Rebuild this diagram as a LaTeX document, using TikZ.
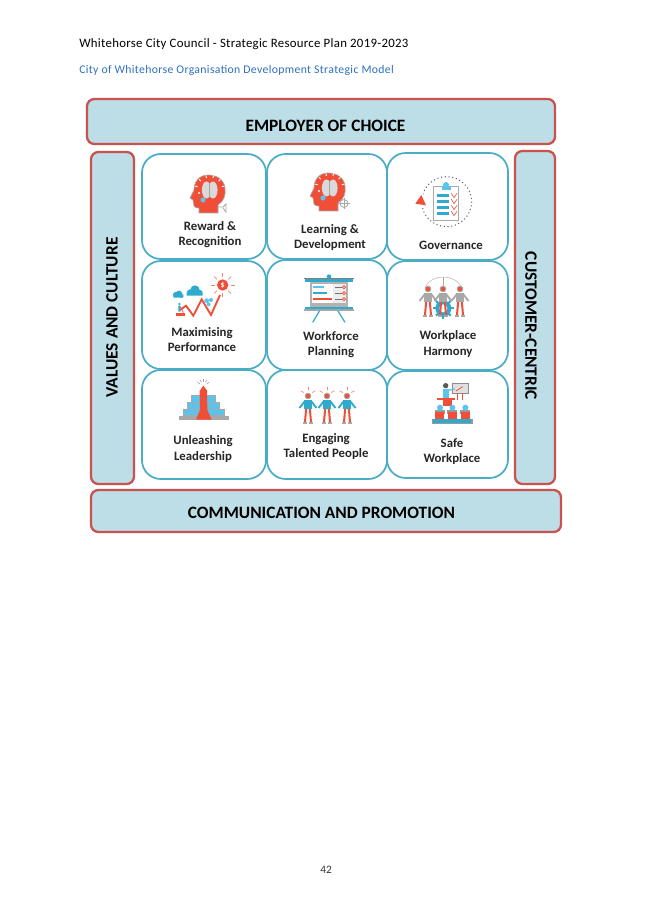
\documentclass[tikz,border=0pt]{standalone}
\usepackage{fontspec}
\setmainfont{Carlito}
\definecolor{panelblue}{HTML}{BDDDE7}
\definecolor{panelred}{HTML}{C9524F}
\definecolor{cellblue}{HTML}{4BACC6}
\definecolor{iconred}{HTML}{F04E37}
\definecolor{iconblue}{HTML}{2FA9CC}
\definecolor{skyblue}{HTML}{5CC4EC}
\definecolor{icongrey}{HTML}{A8A8A8}
\definecolor{titleblue}{HTML}{2E6FBF}
\tikzset{
  x=0.75pt,y=-0.75pt,
  panel/.style={draw=panelred,fill=panelblue,line width=1.7pt,rounded corners=5.5pt},
  cellbox/.style={draw=cellblue,fill=white,line width=1.3pt,rounded corners=14pt},
  paneltext/.style={font=\bfseries\fontsize{13}{13}\selectfont,text=black,inner sep=0pt},
  celltext/.style={font=\bfseries\fontsize{9.6}{11.3}\selectfont,text=black!85,align=center,inner sep=0pt},
  greyline/.style={draw=icongrey,line width=0.6pt},
  rays/.style={draw=iconred!70,line width=0.5pt},
  pics/headicon/.style={code={
    \draw[fill=iconred,draw=icongrey,line width=0.5pt] (11,18) -- (11,10) .. controls (17,6) and (19,0) .. (18,-7) .. controls (17,-16) and (9,-20) .. (1,-20) .. controls (-8,-20) and (-13,-13) .. (-13,-5) -- (-17,3) -- (-14,5) -- (-13,11) .. controls (-12,13) and (-10,13) .. (-8,13) -- (-8,18) -- cycle;
    \fill[black!15] (-0.5,-5) ellipse (4.6 and 8.5);
    \fill[black!15] (6,-5) ellipse (4.6 and 8.5);
    \draw[black!35,line width=0.4pt] (2.7,-12) -- (2.7,2);
    \fill[skyblue] (-4,5) circle (2.6);
    \foreach \a in {15,45,...,165} {\draw[white,line width=0.7pt] ({2.7+12.5*cos(\a)},{-5-12.5*sin(\a)}) -- ({2.7+15*cos(\a)},{-5-15*sin(\a)});}
    \fill[white] (-8,-2) circle (1.2);
  }},
  pics/personicon/.style={code={
    \fill[icongrey] (-5,21.5) rectangle (-1,23.5);
    \fill[icongrey] (1,21.5) rectangle (5,23.5);
    \draw[iconred,line width=1.5pt] (-1.8,8) -- (-3,22);
    \draw[iconred,line width=1.5pt] (1.8,8) -- (3,22);
    \draw[#1,line width=1.4pt] (-3,1) -- (-8.5,8);
    \draw[#1,line width=1.4pt] (3,1) -- (8.5,8);
    \fill[#1] (-3.8,0) rectangle (3.8,9);
    \draw[fill=iconred,draw=icongrey,line width=0.7pt] (0,-4) circle (2.8);
  }},
}
\begin{document}
\begin{tikzpicture}
\useasboundingbox (0,0) rectangle (653,923);
% headings
\node[anchor=west,inner sep=0pt,font=\fontsize{9.6}{12}\selectfont,text=black] (doctitle) at (79,44) {\addfontfeature{LetterSpace=2.3}Whitehorse City Council - Strategic Resource Plan 2019-2023};
\node[anchor=west,inner sep=0pt,font=\fontsize{8.8}{12}\selectfont,text=titleblue] (subtitle) at (79,70) {\addfontfeature{LetterSpace=3}City of Whitehorse Organisation Development Strategic Model};
\node[inner sep=0pt,font=\fontsize{8.5}{12}\selectfont,text=black!80] (pageno) at (326,870) {42};
% panels
\draw[panel] (87,99) rectangle (555,144);
\draw[panel] (91,152) rectangle (134,484);
\draw[panel] (515,151) rectangle (555,484);
\draw[panel] (91,490) rectangle (561,532);
\node[paneltext] (employer) at (325.5,125.5) {EMPLOYER OF CHOICE};
\node[paneltext,rotate=90] (values) at (112,317.5) {VALUES AND CULTURE};
\node[paneltext,rotate=-90] (customer) at (531,326) {CUSTOMER-CENTRIC};
\node[paneltext] (communication) at (321.5,512.5) {COMMUNICATION AND PROMOTION};
% cells
\draw[cellbox] (142,154) rectangle (266,259);
\draw[cellbox] (267,154) rectangle (387,259);
\draw[cellbox] (387,153) rectangle (508,260);
\draw[cellbox] (142,261) rectangle (266,369);
\draw[cellbox] (267,260) rectangle (387,370);
\draw[cellbox] (387,261) rectangle (508,370);
\draw[cellbox] (142,370) rectangle (266,479);
\draw[cellbox] (267,370) rectangle (387,479);
\draw[cellbox] (387,371) rectangle (508,478);
% labels
\node[celltext] (reward) at (210,235) {Reward \&\\Recognition};
\node[celltext] (learning) at (330,237.5) {Learning \&\\Development};
\node[celltext] (governance) at (451,245) {Governance};
\node[celltext] (maximising) at (202,339.5) {Maximising\\Performance};
\node[celltext] (workforce) at (331,344.5) {Workforce\\Planning};
\node[celltext] (harmony) at (448,344) {Workplace\\Harmony};
\node[celltext] (unleashing) at (203,449) {Unleashing\\Leadership};
\node[celltext] (engaging) at (326,446.5) {Engaging\\Talented People};
\node[celltext] (safe) at (452,451.5) {Safe\\Workplace};
% Reward head and Learning head
\pic at (207,195) {headicon};
\pic at (327,193) {headicon};
\draw[greyline] (218,207) -- (223,207) -- (226,204) -- (226,212) -- (223,208);
\draw[greyline,fill=white] (344,203.5) circle (4);
\draw[greyline] (338,203.5) -- (350,203.5) (344,198) -- (344,209);
% Governance
\begin{scope}[shift={(380,145)},scale=1/3]
\draw[black!60,line width=0.8pt,dotted] (200,170) circle (75);
\fill[white] (105,140) rectangle (130,190);
\fill[iconred] (106,176) -- (124,150) -- (138,181) -- cycle;
\draw[icongrey,line width=0.7pt,fill=white] (160,124) rectangle (236,226);
\fill[skyblue] (186,134) rectangle (212,122);
\fill[skyblue] (198,120) circle (9);
\foreach \y in {152,170,188,206} {
  \fill[iconblue] (170,\y-4) rectangle (208,\y+4);
  \draw[iconred,line width=0.45pt] (214,\y-7) -- (222,\y+6) -- (231,\y-7);
}
\end{scope}
% Maximising Performance
\begin{scope}[shift={(130,260)},scale=1/3]
\draw[iconred,line width=1.4pt,line join=miter] (150,150) -- (168,137) -- (190,167) -- (215,118) -- (243,165) -- (270,105);
\fill[iconred] (278,75) circle (17);
\node[text=white,font=\bfseries\fontsize{6}{6}\selectfont,inner sep=0pt] (dollar) at (278,75) {\$};
\foreach \a in {0,45,...,315} {\draw[rays] ({278+24*cos(\a)},{75+24*sin(\a)}) -- ({278+36*cos(\a)},{75+36*sin(\a)});}
\fill[iconblue] (130,113) rectangle (160,104) (137,104) circle (8) (147,102) circle (10) (154,108) circle (6);
\fill[iconblue] (170,107) rectangle (218,96) (180,97) circle (9) (195,90) circle (14) (210,98) circle (8);
\fill[skyblue] (230,122) circle (7) (243,120) circle (6) (236,133) circle (6);
\fill[iconblue] (148,132) circle (4) (145,137) rectangle (151,155);
\fill[iconred] (138,160) rectangle (165,167);
\draw[iconred,line width=0.5pt] (151,140) -- (160,158);
\end{scope}
% Workforce Planning
\begin{scope}[shift={(130,260)},scale=1/3]
\fill[iconblue] (597,50) circle (7);
\draw[iconblue,line width=0.9pt] (570,150) -- (548,187) (622,150) -- (645,187);
\fill[black!30] (540,65) rectangle (655,140);
\fill[black!7] (547,72) rectangle (648,128);
\fill[white] (547,72) rectangle (610,128);
\fill[black!50] (523,53) rectangle (672,58);
\fill[iconblue] (525,58) rectangle (670,67);
\fill[iconblue] (525,140) rectangle (670,148);
\fill[black!35] (523,148) rectangle (672,152);
\fill[skyblue] (550,79) rectangle (582,85);
\fill[iconblue] (550,97) rectangle (592,103);
\fill[iconred] (550,115) rectangle (606,121);
\foreach \y in {82,100,118} {
  \draw[black!55,line width=0.6pt] (615,\y) -- (636,\y);
  \draw[iconred,fill=white!70!iconred,line width=0.5pt] (642,\y) circle (5);
}
\end{scope}
% Workplace Harmony
\begin{scope}[shift={(380,260)},scale=1/3]
\draw[icongrey!70,line width=0.5pt] (135,85) .. controls (150,40) and (230,40) .. (245,85);
\draw[icongrey,line width=0.5pt] (190,52) -- (190,78);
\fill[iconblue] (190,145) circle (24);
\foreach \a in {0,45,...,315} {\draw[iconblue,line width=1.6pt] ({190+20*cos(\a)},{145+20*sin(\a)}) -- ({190+31*cos(\a)},{145+31*sin(\a)});}
\fill[white] (190,145) circle (12);
\end{scope}
\pic at (428,293) {personicon=icongrey};
\pic at (443,293) {personicon=icongrey};
\pic at (460,293) {personicon=icongrey};
% Unleashing Leadership
\begin{scope}[shift={(130,365)},scale=1/3]
\fill[icongrey] (148,152) rectangle (297,164);
\draw[icongrey,fill=skyblue,line width=0.4pt] (160,132) rectangle (282,152);
\draw[icongrey,fill=skyblue,line width=0.4pt] (172,112) rectangle (268,132);
\draw[icongrey,fill=skyblue,line width=0.4pt] (184,92) rectangle (256,112);
\fill[iconred] (198,164) -- (245,164) -- (232,135) -- (231,78) -- (232,78) -- (220,62) -- (209,78) -- (210,135) -- cycle;
\foreach \a in {210,240,270,300,330} {\draw[icongrey,line width=0.5pt] ({220+12*cos(\a)},{62+12*sin(\a)}) -- ({220+20*cos(\a)},{62+20*sin(\a)});}
\end{scope}
% Engaging Talented People
\pic at (308,400) {personicon=iconblue};
\pic at (327,400) {personicon=iconblue};
\pic at (347,400) {personicon=iconblue};
\foreach \cx in {308,327,347} {
  \foreach \a in {210,270,330} {\draw[rays] ({\cx+5*cos(\a)},{395+5*sin(\a)}) -- ({\cx+8.5*cos(\a)},{395+8.5*sin(\a)});}
}
% Safe Workplace
\begin{scope}[shift={(380,365)},scale=1/3]
\draw[black!45,fill=black!12,line width=0.7pt] (218,55) rectangle (265,85);
\draw[iconred,line width=0.6pt] (228,78) -- (248,65);
\draw[iconred,line width=0.4pt] (232,85) -- (232,105) (248,85) -- (248,105);
\fill[skyblue] (188,72) rectangle (208,98);
\draw[skyblue,line width=1pt] (205,76) -- (225,72);
\fill[black!65] (197,62) circle (8);
\fill[iconred] (172,98) rectangle (225,106);
\fill[iconred] (190,106) rectangle (215,122);
\foreach \x in {180,217,256} {
  \fill[black!40] (\x-15,135) rectangle (\x+15,146);
  \fill[iconred] (\x-14,142) rectangle (\x+13,161);
  \fill[skyblue] (\x,128) circle (9);
}
\fill[black!40] (156,161) rectangle (278,178);
\fill[iconblue] (160,163) rectangle (274,175);
\end{scope}
\end{tikzpicture}
\end{document}
